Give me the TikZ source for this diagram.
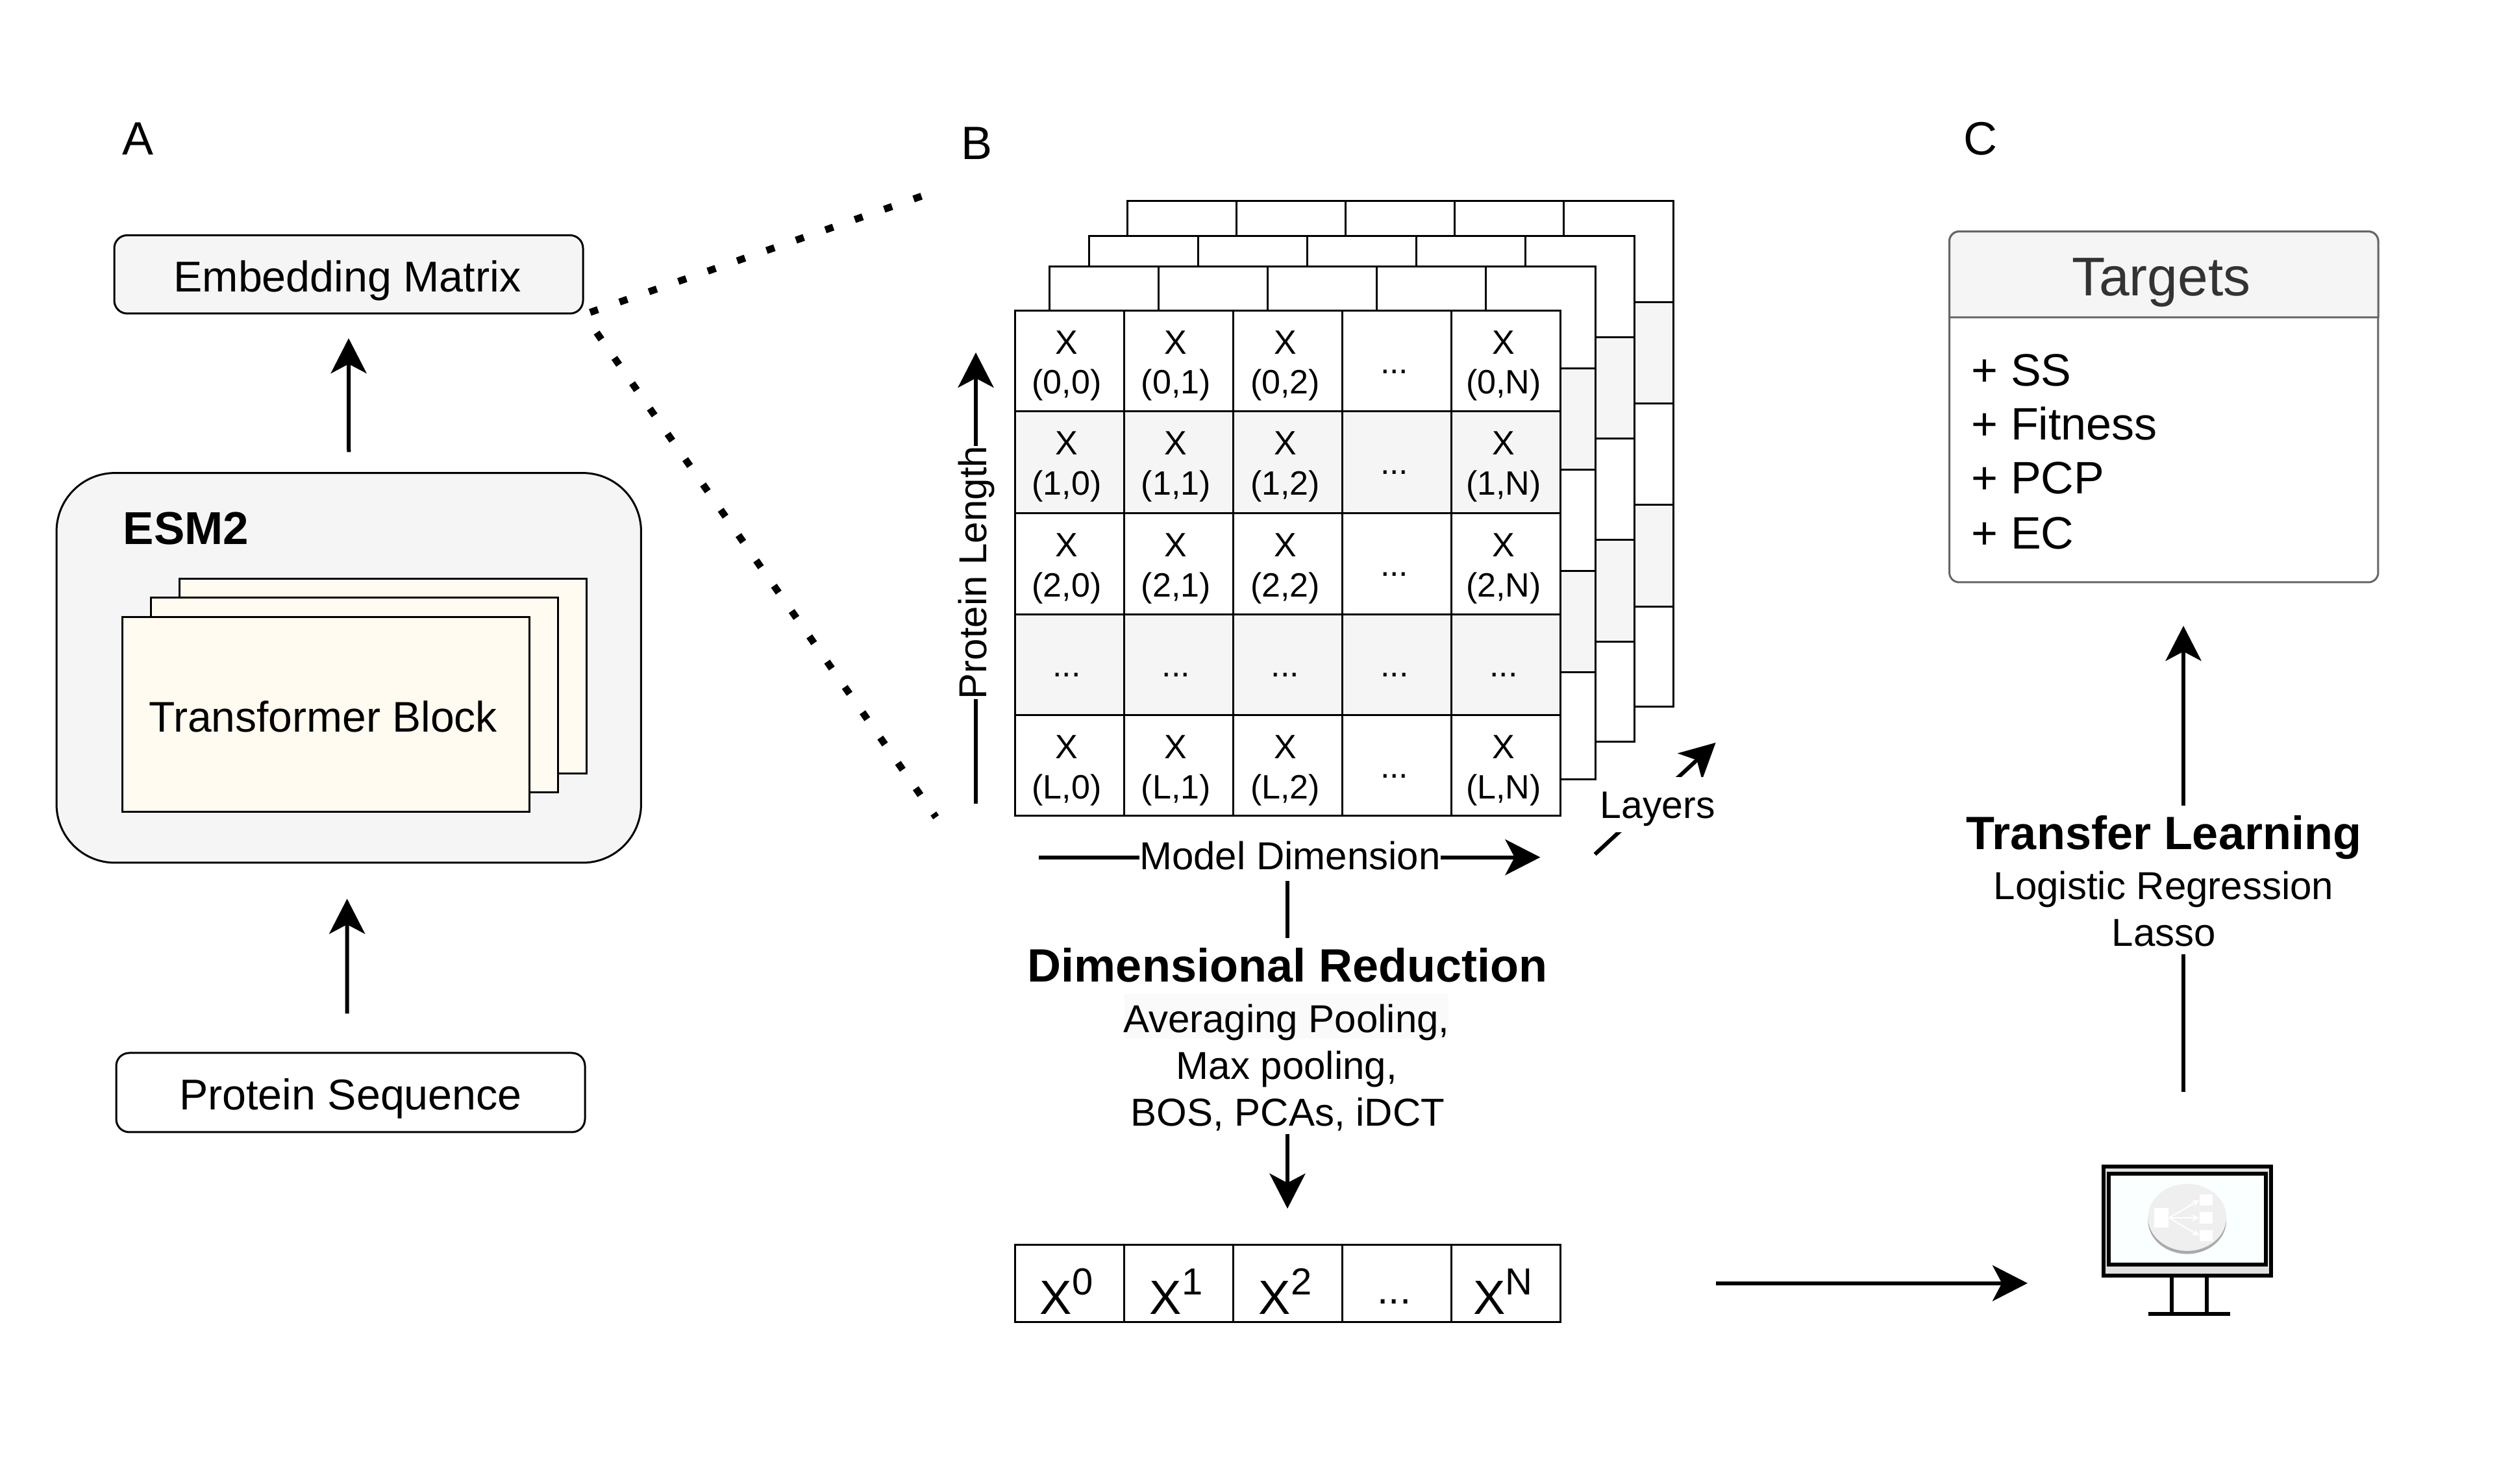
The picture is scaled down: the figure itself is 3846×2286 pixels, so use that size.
\documentclass[tikz,border=0pt]{standalone}
\usepackage{fontspec}
\setmainfont{Liberation Sans}
\usetikzlibrary{arrows.meta}
\newcommand\fsz[1]{\fontsize{#1}{#1}\selectfont}
\definecolor{panelgray}{HTML}{F5F5F5}
\definecolor{blockcream}{HTML}{FFFBF0}
\definecolor{headgray}{HTML}{666666}
\definecolor{titlegray}{HTML}{333333}
\definecolor{bezel}{HTML}{E0E0E0}
\definecolor{screen}{HTML}{FAFFFF}
\definecolor{discgray}{HTML}{EFEFEF}
\definecolor{discshade}{HTML}{AAAAAA}
\definecolor{softbg}{HTML}{FAFAFA}
\tikzset{
  txt/.style={inner sep=0pt, anchor=base},
  gridline/.style={draw=black, line width=0.75pt},
  roundbox/.style={draw=black, line width=0.75pt, rounded corners=5pt, inner sep=0pt},
  plainbox/.style={draw=black, line width=0.75pt, fill=blockcream, inner sep=0pt, minimum width=156.75pt, minimum height=75pt},
  conn/.style={draw=black, line width=1.5pt},
  arr/.style={conn, -{Stealth[length=13.5pt,width=13.75pt,inset=3.6pt]}},
  thick px/.style={line width=1.5pt, draw=black},
}
\newcommand\drawlayer[8]{%
  % #1 left, #2 right, #3..#8 row boundaries
  \fill[white] (#1,#3) rectangle (#2,#8);
  \fill[panelgray] (#1,#4) rectangle (#2,#5);
  \fill[panelgray] (#1,#6) rectangle (#2,#7);
  \draw[gridline] (#1,#3) rectangle (#2,#8);
  \foreach \yy in {#4,#5,#6,#7} {\draw[gridline] (#1,\yy) -- (#2,\yy);}
  \foreach \ii in {1,2,3,4} {
    \pgfmathsetmacro\xx{#1+(#2-#1)*\ii/5}
    \draw[gridline] (\xx,#3) -- (\xx,#8);
  }
}
\begin{document}
\begin{tikzpicture}[x=0.25pt,y=-0.25pt]
\useasboundingbox (0,0) rectangle (3846,2286);
\fill[white] (0,0) rectangle (3846,2286);

% Panel letters
\node[txt] (lblA) at (213,239) {\fsz{18}A};
\node[txt] (lblB) at (1504,246) {\fsz{18}B};
\node[txt] (lblC) at (3050.8,239) {\fsz{18}C};

% Panel A
\node[roundbox, fill=panelgray, minimum width=180.5pt, minimum height=30.15pt, text height=15pt, text depth=1.5pt] (embed) at (537,422.7) {\fsz{16.6}Embedding Matrix\kern1pt};
\node[roundbox, rounded corners=22.5pt, fill=panelgray, minimum width=225.1pt, minimum height=150.1pt] (esm) at (537.25,1028.8) {};
\node[txt, anchor=base west] (esmlabel) at (189,839) {\fsz{17.75}\bfseries ESM2};
\node[plainbox] (tb3) at (589.5,1041.2) {};
\node[plainbox] (tb2) at (545.5,1071) {};
\node[plainbox, text height=15pt, text depth=1.5pt] (tb1) at (501.5,1101) {\fsz{16.5}Transformer Block\kern2pt};
\node[roundbox, fill=white, minimum width=180.5pt, minimum height=30.5pt, text height=15pt, text depth=1.5pt] (pseq) at (540,1683) {\fsz{16.6}Protein Sequence};

\draw[arr] ([xshift=-1.35pt,yshift=14.75pt]pseq.north) -- ([xshift=-0.66pt,yshift=-13.5pt]esm.south);
\draw[arr] ([yshift=7.65pt]esm.north) -- ([yshift=-9.15pt]embed.south);

% Dotted zoom lines
\coordinate (zoomtop) at (1420,302);
\coordinate (zoombot) at (1441.7,1259);
\draw[line width=2.7pt, dash pattern=on 3.2pt off 8.8pt, dash phase=9.5pt] (embed.south east) -- (zoomtop);
\draw[line width=2.7pt, dash pattern=on 3.2pt off 8.7pt, dash phase=3.4pt] (embed.south east) -- (zoombot);

% Panel B: stacked layers
\drawlayer{1736}{2577}{309.5}{466}{622}{778}{934.5}{1089}
\drawlayer{1677}{2517}{364}{520}{676}{832}{988.5}{1143}
\drawlayer{1616}{2457}{411}{567.6}{724}{880}{1035.5}{1201}
\drawlayer{1563}{2403}{478.5}{634}{791}{946.4}{1102}{1256.5}

\foreach \ry/\rl in {478.5/0,634/1,791/2,1102/L} {
  \foreach \ci/\cl in {0/0,1/1,2/2,4/N} {
    \pgfmathsetmacro\cx{1643+168.25*\ci}
    \pgfmathsetmacro\by{\ry+66.6}
    \pgfmathsetmacro\cy{\ry+128.5}
    \node[txt] (x-\rl-\cl) at (\cx,\by) {\fsz{13}X};
    \node[txt] (idx-\rl-\cl) at (\cx,\cy) {\fsz{13}(\rl,\cl)};
  }
  \pgfmathsetmacro\dy{\ry+97}
  \node[txt] (dots-\rl) at (2147.7,\dy) {\fsz{13}...};
}
\foreach \ci in {0,1,2,3,4} {
  \pgfmathsetmacro\cx{1643+168.25*\ci}
  \node[txt] (rowdots-\ci) at (\cx,1043) {\fsz{13}...};
}

% Axis labels
\coordinate (plstart) at (1503,1238);
\coordinate (plend) at (1503,543);
\draw[arr] (plstart) -- (plend);
\node[txt, rotate=90, fill=white] (plabel) at (1519,882) {\fsz{15}Protein Length};

\coordinate (mdstart) at (1599.5,1320.6);
\coordinate (mdend) at (2372.4,1320.6);
\draw[arr] (mdstart) -- (mdend);
\node[txt, fill=white] (mdlabel) at (1987,1340) {\fsz{15}Model Dimension};

\coordinate (lystart) at (2456.6,1316);
\coordinate (lyend) at (2642.6,1144);
\draw[arr] (lystart) -- (lyend);
\node[txt, fill=white, text height=15.9pt, text depth=5.35pt] (lylabel) at (2553,1260.5) {\fsz{14.75}Layers};

% Dimensional reduction
\coordinate (drtop) at (1983,1356.8);
\coordinate (drtopend) at (1983,1445);
\draw[conn] (drtop) -- (drtopend);
\node[txt] (drtitle) at (1983,1513) {\fsz{18}\bfseries Dimensional Reduction};
\fill[softbg] (1732,1531) rectangle (2231,1600);
\node[txt] (dr1) at (1981.4,1591) {\fsz{15}Averaging Pooling,};
\node[txt] (dr2) at (1982,1662.5) {\fsz{15}Max pooling,};
\node[txt] (dr3) at (1983.6,1735) {\fsz{15}BOS, PCAs, iDCT};
\coordinate (drout) at (1983,1746.6);
\coordinate (drin) at (1983,1861.8);
\draw[arr] (drout) -- (drin);

% Output vector
\draw[gridline] (1563,1917.4) rectangle (2403,2036.6);
\foreach \xx in {1731,1899,2067,2235} {\draw[gridline] (\xx,1917.4) -- (\xx,2036.6);}
\node[txt, anchor=base west] (v0) at (1601,2024) {\fsz{18.5}X\raisebox{7.4pt}{\fsz{14.5}0}};
\node[txt, anchor=base west] (v1) at (1770,2024) {\fsz{18.5}X\raisebox{7.4pt}{\fsz{14.5}1}};
\node[txt, anchor=base west] (v2) at (1938,2024) {\fsz{18.5}X\raisebox{7.4pt}{\fsz{14.5}2}};
\node[txt] (v3) at (2147.4,2008) {\fsz{15.5}...};
\node[txt, anchor=base west] (v4) at (2268.6,2024) {\fsz{18.5}X\raisebox{7.4pt}{\fsz{14.5}N}};

% Arrow to monitor
\coordinate (tostart) at (2642.7,1976.7);
\coordinate (toend) at (3123,1976.7);
\draw[arr] (tostart) -- (toend);

% Monitor
\draw[thick px] (3345,1968) -- (3345,2024.3);
\draw[thick px] (3399,1968) -- (3399,2024.3);
\draw[thick px] (3309,2024.3) -- (3435,2024.3);
\node[draw=black, line width=1.5pt, fill=bezel, inner sep=0pt, minimum width=64.5pt, minimum height=42pt] (monitor) at (3369,1881) {};
\node[draw=black, line width=1.5pt, fill=screen, inner sep=0pt, minimum width=60.5pt, minimum height=35pt] (screenbox) at (3369,1878) {};
\fill[discshade] (3368.8,1880) ellipse [x radius=15.1pt, y radius=12.9pt];
\fill[discgray] (3368.8,1875.3) ellipse [x radius=15.1pt, y radius=12.9pt];
\node[fill=white, inner sep=0pt, minimum width=5.5pt, minimum height=7.5pt] (src) at (3329,1876) {};
\node[fill=white, inner sep=0pt, minimum width=5pt, minimum height=4.35pt] (t1) at (3398.3,1848.7) {};
\node[fill=white, inner sep=0pt, minimum width=5pt, minimum height=4.35pt] (t2) at (3398.3,1876) {};
\node[fill=white, inner sep=0pt, minimum width=5pt, minimum height=4.35pt] (t3) at (3398.3,1903.3) {};
\foreach \tt in {t1,t2,t3} {
  \draw[white, line width=0.5pt, -{Stealth[length=2.8pt,width=2.6pt]}] (src.east) -- (\tt.west);
}

% Transfer learning
\coordinate (tlbot) at (3363,1682);
\coordinate (tlmid) at (3363,1470);
\coordinate (tlup) at (3363,1240.6);
\coordinate (tltip) at (3363,964);
\draw[conn] (tlbot) -- (tlmid);
\draw[arr] (tlup) -- (tltip);
\node[txt] (tltitle) at (3333,1308.4) {\fsz{18}\bfseries Transfer Learning};
\node[txt] (tl1) at (3332.5,1386) {\fsz{15}Logistic Regression};
\node[txt] (tl2) at (3333,1457.5) {\fsz{15}Lasso};

% Targets
\node[roundbox, draw=headgray, fill=white, rounded corners=3.75pt, minimum width=165.1pt, minimum height=135.1pt] (targets) at (3332.75,626.8) {};
\draw[draw=headgray, fill=panelgray, line width=0.75pt] (3002.5,489) [rounded corners=3.75pt] -- (3002.5,356.6) -- (3663,356.6) [sharp corners] -- (3663,489) -- cycle;
\node[txt] (tgtitle) at (3328.8,456) {\fsz{21}\color{titlegray}Targets};
\node[txt, anchor=base west] (tg1) at (3036,594.6) {\fsz{17.5}+ SS};
\node[txt, anchor=base west] (tg2) at (3036,678) {\fsz{17.5}+ Fitness};
\node[txt, anchor=base west] (tg3) at (3036,761) {\fsz{17.5}+ PCP};
\node[txt, anchor=base west] (tg4) at (3036,845.6) {\fsz{17.5}+ EC};
\end{tikzpicture}
\end{document}
